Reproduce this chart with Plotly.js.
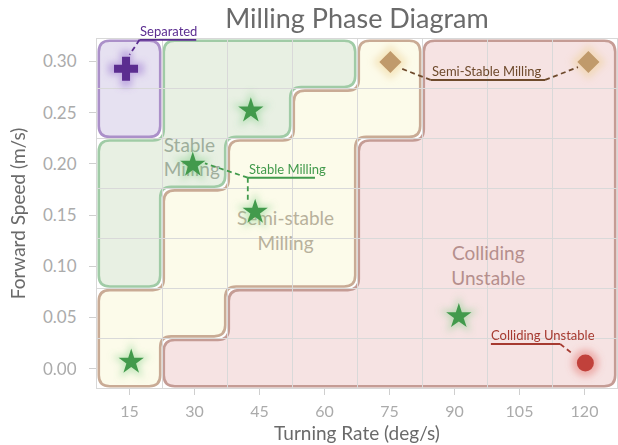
<!DOCTYPE html>
<html>
<head>
<meta charset="utf-8">
<script src="https://cdn.plot.ly/plotly-3.0.1.min.js"></script>
<style>
  html, body { margin: 0; padding: 0; background: #fff; }
  #chart { width: 618px; height: 445px; }
</style>
</head>
<body>
<div id="chart"></div>
<script>
// ---------------- DATA ----------------
const xTickVals = [15, 30, 45, 60, 75, 90, 105, 120];
const yTickVals = [0, 0.05, 0.10, 0.15, 0.20, 0.25, 0.30];

// observed cases (turning rate deg/s, forward speed m/s)
const separatedX = [14.2];
const separatedY = [0.293];
const stableX = [29.6, 43.0, 44.0, 15.4, 91.0];
const stableY = [0.199, 0.252, 0.153, 0.0065, 0.051];
const semiX = [75.2, 120.9];
const semiY = [0.2995, 0.2995];
const collidingX = [120.2];
const collidingY = [0.0055];

// phase regions on the 8 x 7 phase grid: [column, rowFrom, rowTo]
const regionSeparated = [[0, 5, 7]];
const regionStable = [[0, 2, 5], [1, 4, 7], [2, 5, 7], [3, 6, 7]];
const regionSemi = [[0, 0, 2], [1, 1, 4], [2, 2, 5], [3, 2, 6], [4, 5, 7]];
const regionColliding = [[1, 0, 1], [2, 0, 2], [3, 0, 2], [4, 0, 5], [5, 0, 7], [6, 0, 7], [7, 0, 7]];
const gridCols = 8, gridRows = 7;

// region label text
const regionLabelText = ['Stable<br>Milling', 'Semi-stable<br>Milling', 'Colliding<br>Unstable'];

// ---------------- LAYOUT CONSTANTS ----------------
const W = 618, H = 445;
const M = { l: 97, r: 1, t: 39, b: 57 };
const pxX = (W - M.l - M.r) / gridCols;
const pxY = (H - M.t - M.b) / gridRows;
const FONT = 'Lato, "Open Sans", sans-serif';

// rounded, inset outline of a staircase region
function regionPath(spans, inset, radius) {
  let pts = [];
  spans.forEach(s => { pts.push([s[0], s[1]], [s[0] + 1, s[1]]); });
  for (let i = spans.length - 1; i >= 0; i--) {
    const s = spans[i];
    pts.push([s[0] + 1, s[2]], [s[0], s[2]]);
  }
  pts = pts.map(p => [p[0] * pxX, p[1] * pxY]);
  let changed = true;
  while (changed) {
    changed = false;
    const n = pts.length;
    for (let i = 0; i < n; i++) {
      const a = pts[(i - 1 + n) % n], b = pts[i], c = pts[(i + 1) % n];
      const same = Math.abs(a[0] - b[0]) < 1e-9 && Math.abs(a[1] - b[1]) < 1e-9;
      const cross = (b[0] - a[0]) * (c[1] - b[1]) - (b[1] - a[1]) * (c[0] - b[0]);
      if (same || Math.abs(cross) < 1e-9) { pts.splice(i, 1); changed = true; break; }
    }
  }
  const n = pts.length;
  const unit = (v) => { const l = Math.hypot(v[0], v[1]); return [v[0] / l, v[1] / l]; };
  const normals = [];
  for (let i = 0; i < n; i++) {
    const d = unit([pts[(i + 1) % n][0] - pts[i][0], pts[(i + 1) % n][1] - pts[i][1]]);
    normals.push([-d[1], d[0]]);
  }
  const ins = pts.map((p, i) => {
    const n1 = normals[(i - 1 + n) % n], n2 = normals[i];
    return [p[0] + inset * (n1[0] + n2[0]), p[1] + inset * (n1[1] + n2[1])];
  });
  const f = (p) => (p[0] / pxX).toFixed(4) + ',' + (p[1] / pxY).toFixed(4);
  let path = '';
  for (let i = 0; i < n; i++) {
    const v = ins[i], p = ins[(i - 1 + n) % n], q = ins[(i + 1) % n];
    const lp = Math.hypot(p[0] - v[0], p[1] - v[1]), lq = Math.hypot(q[0] - v[0], q[1] - v[1]);
    const r1 = Math.min(radius, lp / 2), r2 = Math.min(radius, lq / 2);
    const a = [v[0] + r1 * (p[0] - v[0]) / lp, v[1] + r1 * (p[1] - v[1]) / lp];
    const b = [v[0] + r2 * (q[0] - v[0]) / lq, v[1] + r2 * (q[1] - v[1]) / lq];
    path += (i === 0 ? 'M' : 'L') + f(a) + ' Q' + f(v) + ' ' + f(b) + ' ';
  }
  return path + 'Z';
}

function regionShape(spans, fill, line) {
  return {
    type: 'path', xref: 'x2', yref: 'y2', layer: 'below',
    path: regionPath(spans, 1.8, 11),
    fillcolor: fill, line: { color: line, width: 2.6 }
  };
}

function seg(x0, y0, x1, y1, color, dash) {
  return {
    type: 'line', xref: 'x', yref: 'y', layer: 'above',
    x0: x0, y0: y0, x1: x1, y1: y1,
    line: { color: color, width: dash ? 1.8 : 2, dash: dash ? '5px,3.5px' : 'solid' }
  };
}

// ---------------- COLORS ----------------
const C = {
  sep: '#5b2d90', sepFill: '#e6e1f1', sepLine: '#ab90c9',
  stable: '#429a4c', stFill: '#e8f0e3', stLine: '#a0cba6',
  semi: '#c09a6b', semiFill: '#fcfbea', semiLine: '#c9ab95', semiText: '#6e4a2c',
  coll: '#c1413b', colFill: '#f6e3e3', colLine: '#c59c95', colText: '#a63a30'
};

// ---------------- TRACES ----------------
const traces = [];
traces.push({
  type: 'scatter', mode: 'text', xaxis: 'x', yaxis: 'y', hoverinfo: 'skip',
  x: [22.9, 51.0, 97.8], y: [0.2045, 0.1325, 0.0985],
  text: regionLabelText,
  textposition: ['middle right', 'middle center', 'middle center'],
  textfont: { family: FONT, size: 19, color: ['#9fae9c', '#b8b19c', '#b58f8d'] },
  showlegend: false
});

const groups = [
  { x: separatedX, y: separatedY, sym: 'cross', size: 20, color: C.sep, glow: '#8a5cc8' },
  { x: stableX, y: stableY, sym: 'star', size: 19, color: C.stable, glow: '#6cc874' },
  { x: semiX, y: semiY, sym: 'diamond', size: 17, color: C.semi, glow: '#eccb86' },
  { x: collidingX, y: collidingY, sym: 'circle', size: 17, color: C.coll, glow: '#e0635c' }
];
groups.forEach(g => traces.push({
  type: 'scatter', mode: 'markers', x: g.x, y: g.y, hoverinfo: 'skip', showlegend: false,
  marker: { symbol: g.sym, size: g.size + 10, color: g.glow, opacity: 0.42, line: { width: 0 } }
}));
groups.forEach(g => traces.push({
  type: 'scatter', mode: 'markers', x: g.x, y: g.y, showlegend: false,
  marker: { symbol: g.sym, size: g.size, color: g.color, line: { width: 0 } }
}));

// ---------------- SHAPES ----------------
const shapes = [
  regionShape(regionSeparated, C.sepFill, C.sepLine),
  regionShape(regionStable, C.stFill, C.stLine),
  regionShape(regionSemi, C.semiFill, C.semiLine),
  regionShape(regionColliding, C.colFill, C.colLine),
  // Separated callout
  seg(17.3, 0.3212, 30.4, 0.3212, C.sep, false),
  seg(17.3, 0.3212, 15.0, 0.3065, C.sep, true),
  // Stable Milling callout
  seg(42.3, 0.1865, 57.8, 0.1865, C.stable, false),
  seg(42.3, 0.1865, 32.4, 0.2005, C.stable, true),
  seg(42.3, 0.1865, 42.3, 0.1630, C.stable, true),
  // Semi-Stable Milling callout
  seg(84.5, 0.2820, 110.9, 0.2820, C.semiText, false),
  seg(84.5, 0.2820, 77.5, 0.2935, C.semiText, true),
  seg(110.9, 0.2820, 118.5, 0.2945, C.semiText, true),
  // Colliding Unstable callout
  seg(98.4, 0.0240, 114.4, 0.0240, C.colText, false),
  seg(114.4, 0.0240, 117.3, 0.0142, C.colText, true)
];

// ---------------- ANNOTATIONS ----------------
function note(x, y, text, color) {
  return {
    xref: 'x', yref: 'y', x: x, y: y, text: text, showarrow: false,
    xanchor: 'left', yanchor: 'bottom', yshift: -1,
    font: { family: FONT, size: 13, color: color }
  };
}
const annotations = [
  note(16.9, 0.3212, 'Separated', C.sep),
  note(42.1, 0.1865, 'Stable Milling', C.stable),
  note(84.3, 0.2820, 'Semi-Stable Milling', C.semiText),
  note(98.0, 0.0240, 'Colliding Unstable', C.colText)
];

// ---------------- LAYOUT ----------------
const layout = {
  width: W, height: H,
  margin: M,
  paper_bgcolor: '#ffffff', plot_bgcolor: '#ffffff',
  font: { family: FONT, color: '#666' },
  showlegend: false,
  title: {
    text: 'Milling Phase Diagram', xref: 'paper', x: 0.5, xanchor: 'center',
    yref: 'container', y: 0.958, yanchor: 'middle',
    font: { family: FONT, size: 27, color: '#6a6a6a' }
  },
  xaxis: {
    range: [7.5, 127.5], tickvals: xTickVals, ticktext: xTickVals.map(String),
    ticks: 'outside', ticklen: 6, tickcolor: '#cfcfcf', tickwidth: 1,
    showgrid: false, zeroline: false, showline: true, mirror: true, linecolor: '#d8d8d8', linewidth: 1,
    tickfont: { family: FONT, size: 16, color: '#ababab' }, ticklabelstandoff: 3,
    title: { text: 'Turning Rate (deg/s)', standoff: 7, font: { family: FONT, size: 19, color: '#6a6a6a' } },
    fixedrange: true
  },
  yaxis: {
    range: [-0.019, 0.322], tickvals: yTickVals, tickformat: '.2f',
    ticks: 'outside', ticklen: 7, tickcolor: '#cfcfcf', tickwidth: 1,
    showgrid: false, zeroline: false, showline: true, mirror: true, linecolor: '#d8d8d8', linewidth: 1,
    tickfont: { family: FONT, size: 17, color: '#ababab' }, ticklabelstandoff: 9,
    title: { text: 'Forward Speed (m/s)', standoff: 12, font: { family: FONT, size: 19, color: '#6a6a6a' } },
    fixedrange: true
  },
  xaxis2: {
    overlaying: 'x', anchor: 'y2', range: [0, gridCols], dtick: 1, tick0: 0,
    showgrid: true, gridcolor: '#d9d9d9', gridwidth: 1, showticklabels: false, ticks: '',
    zeroline: false, showline: false, fixedrange: true
  },
  yaxis2: {
    overlaying: 'y', anchor: 'x2', range: [0, gridRows], dtick: 1, tick0: 0,
    showgrid: true, gridcolor: '#d9d9d9', gridwidth: 1, showticklabels: false, ticks: '',
    zeroline: false, showline: false, fixedrange: true
  },
  shapes: shapes,
  annotations: annotations
};

// dummy trace to activate the phase-grid axes
traces.unshift({ type: 'scatter', mode: 'none', x: [0, gridCols], y: [0, gridRows], xaxis: 'x2', yaxis: 'y2', hoverinfo: 'skip', showlegend: false });

Plotly.newPlot('chart', traces, layout, { displayModeBar: false, staticPlot: true }).then(gd => {
  const svg = gd.querySelector('.main-svg');
  const NS = 'http://www.w3.org/2000/svg';
  let defs = svg.querySelector('defs');
  if (!defs) { defs = document.createElementNS(NS, 'defs'); svg.insertBefore(defs, svg.firstChild); }
  const filt = document.createElementNS(NS, 'filter');
  filt.setAttribute('id', 'glowBlur');
  filt.setAttribute('x', '-100%'); filt.setAttribute('y', '-100%');
  filt.setAttribute('width', '300%'); filt.setAttribute('height', '300%');
  const blur = document.createElementNS(NS, 'feGaussianBlur');
  blur.setAttribute('stdDeviation', '3.5');
  filt.appendChild(blur);
  defs.appendChild(filt);
  const mainTraces = Array.from(gd.querySelectorAll('.subplot.xy .scatterlayer .trace'));
  mainTraces.slice(1, 5).forEach(g => g.setAttribute('filter', 'url(#glowBlur)'));
});
</script>
</body>
</html>
